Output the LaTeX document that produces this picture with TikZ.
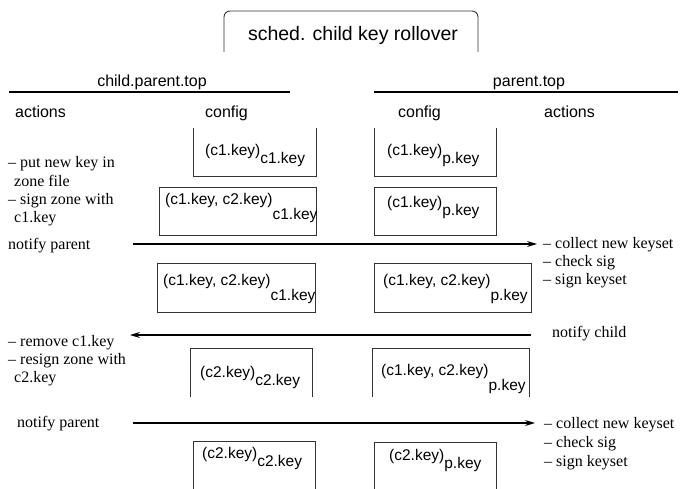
\documentclass[tikz,border=0pt]{standalone}
\usepackage{fontspec}
\setmainfont{Liberation Serif}
\setsansfont{Liberation Sans}
\usetikzlibrary{arrows.meta}
\newcommand\ksub[3]{#1\raisebox{-#3pt}{#2}}
\begin{document}
\begin{tikzpicture}[x=1pt,y=-1pt,
  frame/.style={line width=0.9pt, draw=black!80},
  rulel/.style={line width=1.2pt},
  arr/.style={line width=1.2pt,-{Stealth[length=10pt,width=6pt]}},
  hd/.style={font=\sffamily\fontsize{16}{18}\selectfont, inner sep=0pt, anchor=base},
  cfg/.style={font=\sffamily\fontsize{15.5}{18}\selectfont, inner sep=0pt, anchor=base west},
  act/.style={font=\rmfamily\fontsize{16}{18}\selectfont, inner sep=0pt, anchor=base west},
]
\useasboundingbox (0,0) rectangle (680,489);
% title
\node[font=\sffamily\fontsize{19.5}{22}\selectfont, inner sep=0pt, anchor=base] (title) at (353,41) {sched. child key rollover};
\draw[frame, rounded corners=6pt] (224,52) -- (224,11) -- (478,11) -- (478,52);
% headers
\node[hd] (hchild) at (152,87) {child.parent.top};
\node[hd] (hparent) at (529,87) {parent.top};
\draw[rulel] (9,92) -- (290,92);
\draw[rulel] (374,92) -- (678,92);
\node[hd, anchor=base west] (actl) at (15,118) {actions};
\node[hd, anchor=base west] (cfgl) at (205,118) {config};
\node[hd, anchor=base west] (cfgr) at (398,118) {config};
\node[hd, anchor=base west] (actr) at (544,118) {actions};
% boxes
\draw[frame] (193,128) -- (193,176) -- (316,176) -- (316,128);
\draw[frame] (374,128) -- (374,176) -- (496,176) -- (496,128);
\draw[frame] (159,187) rectangle (316,235);
\draw[frame] (374,187) rectangle (496,235);
\draw[frame] (157,263) rectangle (315,312);
\draw[frame] (374,263) rectangle (531,312);
\draw[frame] (190,397) -- (190,348) -- (312,348) -- (312,397);
\draw[frame] (372,397) -- (372,348) -- (529,348) -- (529,397);
\draw[frame] (193,490) -- (193,441) -- (315,441) -- (315,490);
\draw[frame] (374,490) -- (374,442) -- (496,442) -- (496,490);
% box texts
\node[cfg] (l1t) at (205,156) {\ksub{(c1.key)}{c1.key}{8}};
\node[cfg] (r1t) at (387,156) {\ksub{(c1.key)}{p.key}{8}};
\node[cfg] (l2t) at (165,205) {\ksub{(c1.key, c2.key)}{c1.key}{15}};
\node[cfg] (r2t) at (387,208) {\ksub{(c1.key)}{p.key}{8}};
\node[cfg] (l3t) at (163,285) {\ksub{(c1.key, c2.key)}{c1.key}{15}};
\node[cfg] (r3t) at (383,285) {\ksub{(c1.key, c2.key)}{p.key}{15}};
\node[cfg] (l4t) at (200,377) {\ksub{(c2.key)}{c2.key}{8}};
\node[cfg] (r4t) at (381,375) {\ksub{(c1.key, c2.key)}{p.key}{15}};
\node[cfg] (l5t) at (202,458) {\ksub{(c2.key)}{c2.key}{8}};
\node[cfg] (r5t) at (389,460) {\ksub{(c2.key)}{p.key}{8}};
% actions child
\node[act] (la1a) at (8,168) {– put new key in};
\node[act] (la1b) at (14,187) {zone file};
\node[act] (la1c) at (8,205) {– sign zone with};
\node[act] (la1d) at (14,223) {c1.key};
\node[act] (np1) at (8,249) {notify parent};
\node[act] (la2a) at (8,346) {– remove c1.key};
\node[act] (la2b) at (8,364) {– resign zone with};
\node[act] (la2c) at (14,382) {c2.key};
\node[act] (np2) at (17,427) {notify parent};
% actions parent
\node[act] (ra1a) at (543,248) {– collect new keyset};
\node[act] (ra1b) at (543,266) {– check sig};
\node[act] (ra1c) at (543,284) {– sign keyset};
\node[act] (nc) at (552,337) {notify child};
\node[act] (ra2a) at (544,428) {– collect new keyset};
\node[act] (ra2b) at (544,447) {– check sig};
\node[act] (ra2c) at (544,466) {– sign keyset};
% arrows
\coordinate (a1s) at (133,244);
\coordinate (a1e) at (537,244);
\coordinate (a2s) at (531,335);
\coordinate (a2e) at (130,335);
\coordinate (a3s) at (133,423);
\coordinate (a3e) at (535,423);
\draw[arr] (a1s) -- (a1e);
\draw[arr] (a2s) -- (a2e);
\draw[arr] (a3s) -- (a3e);
\end{tikzpicture}
\end{document}
